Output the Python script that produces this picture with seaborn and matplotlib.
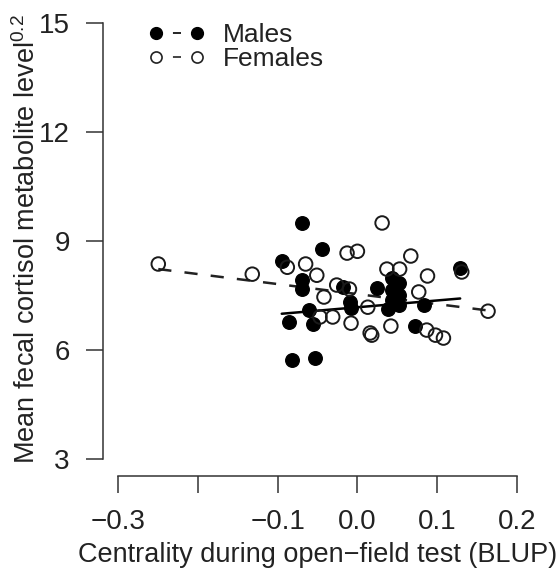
import matplotlib
matplotlib.use("Agg")
import matplotlib.pyplot as plt
from matplotlib.lines import Line2D
import seaborn as sns
import pandas as pd

# ---- data ----
male_x = [-0.069, -0.044, -0.095, -0.069, -0.069, -0.061, -0.086, -0.056, -0.082, -0.053,
          0.129, -0.018, 0.024, 0.044, 0.052, 0.044, 0.052, 0.044, 0.052,
          -0.009, -0.008, 0.039, 0.083, 0.072]
male_y = [9.50, 8.78, 8.45, 7.93, 7.68, 7.10, 6.77, 6.71, 5.72, 5.78,
          8.26, 7.73, 7.70, 7.98, 7.84, 7.65, 7.51, 7.37, 7.24,
          7.32, 7.16, 7.13, 7.24, 6.66]
female_x = [-0.250, -0.088, -0.065, -0.051, -0.132, -0.042, -0.026, -0.047, -0.031,
            0.031, -0.013, 0.000, 0.067, 0.131, 0.037, 0.053, 0.088, -0.010, 0.077,
            0.013, 0.164, -0.008, 0.016, 0.018, 0.042, 0.087, 0.098, 0.108]
female_y = [8.37, 8.28, 8.37, 8.06, 8.09, 7.46, 7.79, 6.91, 6.91,
            9.50, 8.67, 8.72, 8.59, 8.15, 8.23, 8.23, 8.04, 7.68, 7.60,
            7.18, 7.07, 6.74, 6.47, 6.41, 6.66, 6.55, 6.41, 6.33]
# fitted regression lines (end points)
male_fit_x = [-0.095, 0.129]
male_fit_y = [7.00, 7.42]
female_fit_x = [-0.250, 0.164]
female_fit_y = [8.23, 7.09]

x_ticks = [-0.3, -0.2, -0.1, 0.0, 0.1, 0.2]
x_tick_labels = ["\u22120.3", "", "\u22120.1", "0.0", "0.1", "0.2"]
y_ticks = [3, 6, 9, 12, 15]
y_tick_labels = ["3", "6", "9", "12", "15"]

sns.set_theme(style="white")
plt.rcParams["font.family"] = ["Liberation Sans", "DejaVu Sans"]
plt.rcParams["mathtext.fontset"] = "custom"
plt.rcParams["mathtext.rm"] = "Liberation Sans"
plt.rcParams["mathtext.it"] = "Liberation Sans:italic"
plt.rcParams["lines.scale_dashes"] = False

males = pd.DataFrame({"x": male_x, "y": male_y})
females = pd.DataFrame({"x": female_x, "y": female_y})
mfit = pd.DataFrame({"x": male_fit_x, "y": male_fit_y})
ffit = pd.DataFrame({"x": female_fit_x, "y": female_fit_y})

fig = plt.figure(figsize=(5.56, 5.71), dpi=100)
ax = fig.add_axes([0.1844, 0.1657, 0.7736, 0.824])

sns.lineplot(data=mfit, x="x", y="y", ax=ax, color="black", linewidth=1.8, zorder=3)
sns.lineplot(data=ffit, x="x", y="y", ax=ax, color="#222222", linewidth=1.8,
             zorder=3, dashes=False)
ax.lines[-1].set_dashes((9.5, 9.5))
sns.scatterplot(data=males, x="x", y="y", ax=ax, color="black", s=95,
                edgecolor="black", linewidth=1.0, zorder=4)
sns.scatterplot(data=females, x="x", y="y", ax=ax, facecolor="none", s=95,
                edgecolor="#1a1a1a", linewidth=1.4, zorder=5)

ax.set_xlim(-0.32, 0.22)
ax.set_ylim(2.52, 15.48)
for side in ["top", "right"]:
    ax.spines[side].set_visible(False)
for side in ["left", "bottom"]:
    ax.spines[side].set_color("#333333")
    ax.spines[side].set_linewidth(1.1)
ax.spines["left"].set_bounds(3, 15)
ax.spines["bottom"].set_bounds(-0.3, 0.2)
ax.set_xticks(x_ticks)
ax.set_xticklabels(x_tick_labels)
ax.set_yticks(y_ticks)
ax.set_yticklabels(y_tick_labels)
ax.tick_params(axis="both", direction="out", length=12, width=1.1, color="#333333",
               labelsize=20, labelcolor="#222222", pad=11.5, left=True, bottom=True)
ax.set_xlabel("Centrality during open\u2212field test (BLUP)", fontsize=19.5, color="#222222",
              labelpad=5)
ax.set_ylabel(r"Mean fecal cortisol metabolite level$^{0.2}$", fontsize=19.5, color="#222222")
ax.yaxis.set_label_coords(-0.143, 0.505)

handles = [
    Line2D([], [], marker="o", markersize=8.5, color="black", markerfacecolor="black",
           linestyle=(33.6, (5.8, 40)), linewidth=1.2),
    Line2D([], [], marker="o", markersize=8.0, color="#222222", markerfacecolor="none",
           markeredgewidth=1.2, linestyle=(33.6, (5.8, 40)), linewidth=1.2),
]
ax.legend(handles, ["Males", "Females"], loc="upper left", bbox_to_anchor=(0.1058, 0.964),
          frameon=False, numpoints=2, handlelength=2.15, handletextpad=0.68,
          labelspacing=0.0, fontsize=19, borderaxespad=0, borderpad=0,
          labelcolor="#222222")

fig.savefig("out.png", dpi=100)
